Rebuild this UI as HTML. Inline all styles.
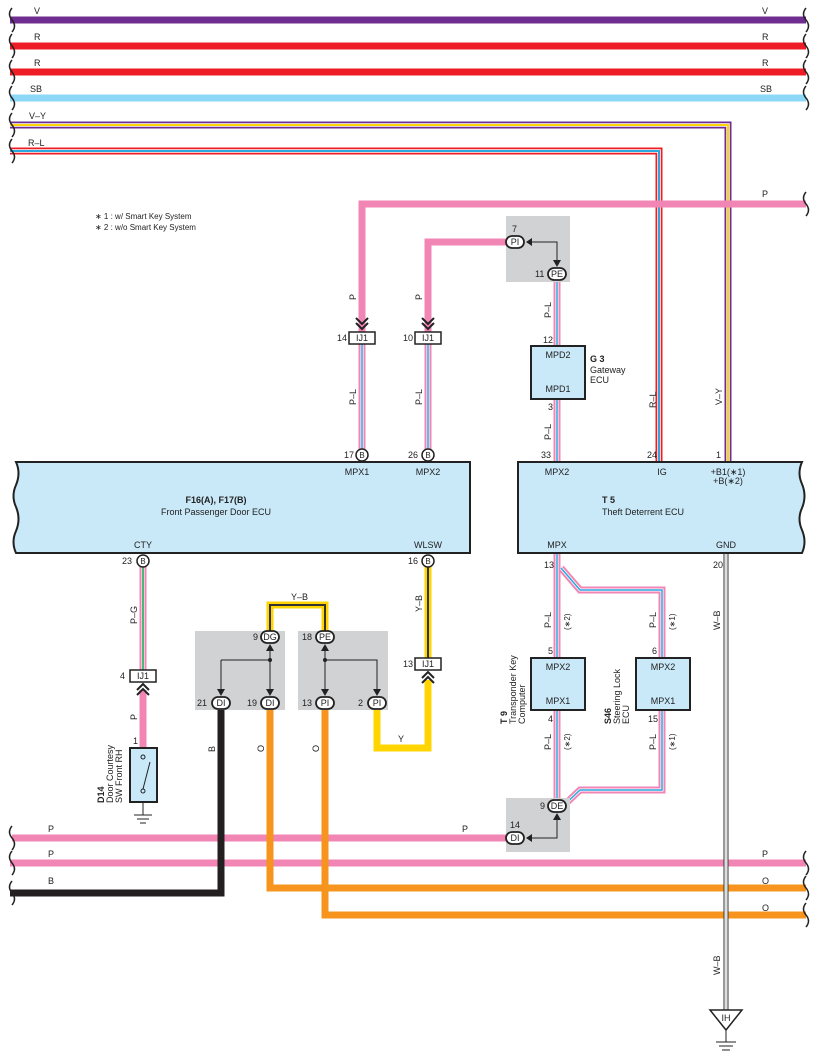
<!DOCTYPE html>
<html><head><meta charset="utf-8"><style>html,body{margin:0;padding:0;background:#fff}svg{display:block}text{font-family:"Liberation Sans",Arial,sans-serif;font-size:9px;fill:#222}</style></head>
<body>
<svg width="817" height="1061" viewBox="0 0 817 1061" xmlns="http://www.w3.org/2000/svg">
<g fill="none" stroke-linejoin="miter">
<line x1="10" y1="20" x2="806" y2="20" stroke="#6f2c91" stroke-width="7"/>
<line x1="10" y1="46" x2="806" y2="46" stroke="#ee1c25" stroke-width="7"/>
<line x1="10" y1="72" x2="806" y2="72" stroke="#ee1c25" stroke-width="7"/>
<line x1="10" y1="98" x2="806" y2="98" stroke="#8dd7f7" stroke-width="7"/>
<path d="M10 125 H728 V462" stroke="#6f2c91" stroke-width="7"/>
<path d="M10 125 H728 V462" stroke="#ffffff" stroke-width="3.5"/>
<path d="M10 125 H728 V462" stroke="#ffd400" stroke-width="2"/>
<path d="M10 151 H659 V462" stroke="#ee1c25" stroke-width="7"/>
<path d="M10 151 H659 V462" stroke="#ffffff" stroke-width="3.5"/>
<path d="M10 151 H659 V462" stroke="#29a8e0" stroke-width="2"/>
<path d="M806 204 H362 V332" stroke="#f185b4" stroke-width="7"/>
<path d="M512 242 H428 V332" stroke="#f185b4" stroke-width="7"/>
<g stroke="#f185b4" stroke-width="7">
<line x1="362" y1="344" x2="362" y2="450"/><line x1="428" y1="344" x2="428" y2="450"/>
<line x1="557" y1="280" x2="557" y2="462"/>
<path d="M557 553 V800"/>
<path d="M561 568 L580 590 H662 V790 H580 L561 808"/>
<line x1="143" y1="566" x2="143" y2="670"/>
<line x1="143" y1="690" x2="143" y2="748"/>
<line x1="12" y1="838" x2="510" y2="838"/>
<line x1="10" y1="863" x2="806" y2="863"/>
</g>
<g stroke="#fff" stroke-width="3">
<line x1="362" y1="344" x2="362" y2="450"/><line x1="428" y1="344" x2="428" y2="450"/>
<line x1="557" y1="280" x2="557" y2="462"/><path d="M557 553 V800"/>
<path d="M561 568 L580 590 H662 V790 H580 L561 808"/>
<line x1="143" y1="566" x2="143" y2="670"/>
</g>
<g stroke="#29a8e0" stroke-width="1.5">
<line x1="362" y1="344" x2="362" y2="450"/><line x1="428" y1="344" x2="428" y2="450"/>
<line x1="557" y1="280" x2="557" y2="462"/><path d="M557 553 V800"/>
<path d="M561 568 L580 590 H662 V790 H580 L561 808"/>
</g>
<line x1="143" y1="566" x2="143" y2="670" stroke="#00a651" stroke-width="1.5"/>
<path d="M270 631 V605 H325 V631" stroke="#ffd400" stroke-width="7"/>
<path d="M270 631 V605 H325 V631" stroke="#333" stroke-width="2"/>
<line x1="428" y1="566" x2="428" y2="658" stroke="#ffd400" stroke-width="7"/>
<line x1="428" y1="566" x2="428" y2="658" stroke="#333" stroke-width="2"/>
<path d="M377 709 V748 H428 V680" stroke="#ffd400" stroke-width="7"/>
<path d="M221 709 V893 H10" stroke="#231f20" stroke-width="7"/>
<path d="M270 709 V888 H806" stroke="#f7941d" stroke-width="7"/>
<path d="M325 709 V915 H806" stroke="#f7941d" stroke-width="7"/>
<line x1="726" y1="553" x2="726" y2="1010" stroke="#333" stroke-width="5"/>
<line x1="726" y1="553" x2="726" y2="1010" stroke="#fff" stroke-width="3"/>
<line x1="726" y1="553" x2="726" y2="1010" stroke="#aaa" stroke-width="0.8"/>
</g>
<g fill="none" stroke="#222" stroke-width="1.5">
<path d="M12 8 q-5 6 0 12 q5 6 0 12 M12 34 q-5 6 0 12 q5 6 0 12 M12 60 q-5 6 0 12 q5 6 0 12 M12 86 q-5 6 0 12 q5 6 0 12 M12 113 q-5 6 0 12 q5 6 0 12 M12 139 q-5 6 0 12 q5 6 0 12"/>
<path d="M806 8 q-5 6 0 12 q5 6 0 12 M806 34 q-5 6 0 12 q5 6 0 12 M806 60 q-5 6 0 12 q5 6 0 12 M806 86 q-5 6 0 12 q5 6 0 12 M806 192 q-5 6 0 12 q5 6 0 12"/>
<path d="M12 826 q-5 6 0 12 q5 6 0 12 M12 851 q-5 6 0 12 q5 6 0 12 M12 881 q-5 6 0 12 q5 6 0 12"/>
<path d="M806 851 q-5 6 0 12 q5 6 0 12 M806 876 q-5 6 0 12 q5 6 0 12 M806 903 q-5 6 0 12 q5 6 0 12"/>
</g>
<path d="M16 462 H470 V553 H16 q-5 -11 0 -22 q5 -12 0 -24 q-5 -11 0 -22 q5 -12 0 -23 Z" fill="#c9e8f8" stroke="#222" stroke-width="2"/>
<path d="M518 462 H802 q-5 11 0 22 q5 12 0 24 q-5 11 0 22 q5 12 0 23 H518 Z" fill="#c9e8f8" stroke="#222" stroke-width="2"/>
<rect x="506" y="216" width="64" height="66" fill="#d1d2d4"/>
<rect x="195" y="631" width="90" height="79" fill="#d1d2d4"/>
<rect x="298" y="631" width="90" height="79" fill="#d1d2d4"/>
<rect x="506" y="798" width="64" height="54" fill="#d1d2d4"/>
<rect x="531" y="346" width="54" height="53" fill="#c9e8f8" stroke="#222" stroke-width="2"/>
<rect x="531" y="658" width="54" height="52" fill="#c9e8f8" stroke="#222" stroke-width="2"/>
<rect x="636" y="658" width="54" height="52" fill="#c9e8f8" stroke="#222" stroke-width="2"/>
<rect x="130" y="748" width="27" height="54" fill="#c9e8f8" stroke="#222" stroke-width="2"/>
<g stroke="#222" fill="none" stroke-width="1"><circle cx="143" cy="757" r="2"/><circle cx="143" cy="791" r="2"/><line x1="143" y1="789" x2="150" y2="762"/><line x1="143" y1="802" x2="143" y2="815"/><line x1="134" y1="815" x2="152" y2="815"/><line x1="137" y1="819" x2="149" y2="819"/><line x1="140" y1="823" x2="146" y2="823"/></g>
<g fill="#fff" stroke="#222" stroke-width="1.5">
<rect x="349" y="332" width="26" height="12"/><rect x="415" y="332" width="26" height="12"/>
<rect x="130" y="670" width="26" height="12"/><rect x="415" y="658" width="26" height="12"/>
</g>
<g fill="none" stroke="#222" stroke-width="2">
<path d="M356 318 l6 6 l6 -6 M356 323 l6 6 l6 -6"/><path d="M422 318 l6 6 l6 -6 M422 323 l6 6 l6 -6"/>
<path d="M137 690 l6 -6 l6 6 M137 695 l6 -6 l6 6"/><path d="M422 678 l6 -6 l6 6 M422 683 l6 -6 l6 6"/>
</g>
<g text-anchor="middle"><text x="362" y="341">IJ1</text><text x="428" y="341">IJ1</text><text x="143" y="679">IJ1</text><text x="428" y="667">IJ1</text></g>
<g fill="#fff" stroke="#222" stroke-width="1.5"><circle cx="362" cy="455" r="6"/><circle cx="428" cy="455" r="6"/><circle cx="143" cy="561" r="6"/><circle cx="428" cy="561" r="6"/></g>
<g text-anchor="middle"><text x="362" y="458" style="font-size:8px">B</text><text x="428" y="458" style="font-size:8px">B</text><text x="143" y="564" style="font-size:8px">B</text><text x="428" y="564" style="font-size:8px">B</text></g>
<g fill="#fff" stroke="#222" stroke-width="1.8">
<rect x="506" y="236" width="18" height="12" rx="6"/><rect x="548" y="268" width="18" height="12" rx="6"/>
<rect x="261" y="631" width="18" height="12" rx="6"/><rect x="316" y="631" width="18" height="12" rx="6"/>
<rect x="212" y="697" width="18" height="12" rx="6"/><rect x="261" y="697" width="18" height="12" rx="6"/>
<rect x="316" y="697" width="18" height="12" rx="6"/><rect x="368" y="697" width="18" height="12" rx="6"/>
<rect x="548" y="800" width="18" height="12" rx="6"/><rect x="506" y="832" width="18" height="12" rx="6"/>
</g>
<g text-anchor="middle">
<text x="515" y="245">PI</text><text x="557" y="277">PE</text><text x="270" y="640">DG</text><text x="325" y="640">PE</text>
<text x="221" y="706">DI</text><text x="270" y="706">DI</text><text x="325" y="706">PI</text><text x="377" y="706">PI</text>
<text x="557" y="809">DE</text><text x="515" y="841">DI</text>
</g>
<g stroke="#222" fill="none" stroke-width="1"><path d="M528 242 H557 V262"/><path d="M270 648 V690 M221 660 H270 M221 660 V690 M325 648 V690 M325 660 H377 V690"/><path d="M557 817 V838 H528"/></g>
<g fill="#222"><circle cx="270" cy="660" r="2"/><circle cx="325" cy="660" r="2"/>
<path d="M526 242 l6 -4 v8 Z"/><path d="M557 267 l-4 -7 h8 Z"/><path d="M270 644 l-4 7 h8 Z"/><path d="M325 644 l-4 7 h8 Z"/>
<path d="M221 696 l-4 -7 h8 Z"/><path d="M270 696 l-4 -7 h8 Z"/><path d="M325 696 l-4 -7 h8 Z"/><path d="M377 696 l-4 -7 h8 Z"/>
<path d="M557 813 l-4 7 h8 Z"/><path d="M526 838 l6 -4 v8 Z"/></g>
<path d="M710 1010 H742 L726 1030 Z" fill="#fff" stroke="#222" stroke-width="1.5"/>
<text x="726" y="1021" text-anchor="middle">IH</text>
<g stroke="#222" stroke-width="1"><line x1="726" y1="1030" x2="726" y2="1042"/><line x1="716" y1="1042" x2="736" y2="1042"/><line x1="719" y1="1046" x2="733" y2="1046"/><line x1="722" y1="1050" x2="730" y2="1050"/></g>
<text x="34" y="14">V</text><text x="762" y="14">V</text>
<text x="34" y="40">R</text><text x="762" y="40">R</text>
<text x="34" y="66">R</text><text x="762" y="66">R</text>
<text x="30" y="92">SB</text><text x="760" y="92">SB</text>
<text x="29" y="119">V–Y</text><text x="28" y="146">R–L</text>
<text x="762" y="197">P</text>
<text x="95" y="219" style="font-size:8px">∗ 1 : w/ Smart Key System</text>
<text x="95" y="230" style="font-size:8px">∗ 2 : w/o Smart Key System</text>
<text x="512" y="232">7</text><text x="535" y="277">11</text>
<text x="543" y="343">12</text><text x="548" y="410">3</text><text x="541" y="458">33</text>
<text x="337" y="341">14</text><text x="403" y="341">10</text>
<text x="344" y="458">17</text><text x="408" y="458">26</text>
<text x="647" y="458">24</text><text x="716" y="458">1</text>
<text x="122" y="564">23</text><text x="408" y="564">16</text>
<text x="120" y="679">4</text><text x="403" y="667">13</text>
<text x="133" y="744">1</text>
<text x="253" y="640">9</text><text x="302" y="640">18</text>
<text x="197" y="706">21</text><text x="247" y="706">19</text><text x="302" y="706">13</text><text x="358" y="706">2</text>
<text x="544" y="568">13</text><text x="713" y="568">20</text>
<text x="548" y="654">5</text><text x="652" y="654">6</text>
<text x="548" y="722">4</text><text x="648" y="722">15</text>
<text x="540" y="809">9</text><text x="510" y="828">14</text>
<text x="462" y="832">P</text><text x="48" y="832">P</text><text x="48" y="857">P</text><text x="762" y="857">P</text>
<text x="48" y="884">B</text><text x="762" y="884">O</text><text x="762" y="911">O</text>
<text x="291" y="600">Y–B</text><text x="398" y="742">Y</text>
<g text-anchor="middle">
<text x="357" y="475">MPX1</text><text x="428" y="475">MPX2</text><text x="557" y="475">MPX2</text><text x="662" y="475">IG</text>
<text x="728" y="475">+B1(∗1)</text><text x="728" y="484">+B(∗2)</text>
<text x="143" y="548">CTY</text><text x="428" y="548">WLSW</text><text x="557" y="548">MPX</text><text x="726" y="548">GND</text>
<text x="558" y="358">MPD2</text><text x="558" y="392">MPD1</text>
<text x="558" y="670">MPX2</text><text x="558" y="704">MPX1</text>
<text x="663" y="670">MPX2</text><text x="663" y="704">MPX1</text>
<text x="216" y="503" style="font-weight:bold">F16(A), F17(B)</text>
<text x="216" y="515">Front Passenger Door ECU</text>
</g>
<text x="602" y="503" style="font-weight:bold">T 5</text><text x="602" y="515">Theft Deterrent ECU</text>
<text x="590" y="362" style="font-weight:bold">G 3</text><text x="590" y="373">Gateway</text><text x="590" y="383">ECU</text>
<g>
<text transform="translate(356,300) rotate(-90)">P</text><text transform="translate(422,300) rotate(-90)">P</text>
<text transform="translate(551,318) rotate(-90)">P–L</text><text transform="translate(551,440) rotate(-90)">P–L</text>
<text transform="translate(356,405) rotate(-90)">P–L</text><text transform="translate(422,405) rotate(-90)">P–L</text>
<text transform="translate(656,408) rotate(-90)">R–L</text><text transform="translate(722,405) rotate(-90)">V–Y</text>
<text transform="translate(137,624) rotate(-90)">P–G</text><text transform="translate(137,720) rotate(-90)">P</text>
<text transform="translate(422,612) rotate(-90)">Y–B</text>
<text transform="translate(215,752) rotate(-90)">B</text><text transform="translate(264,752) rotate(-90)">O</text><text transform="translate(319,752) rotate(-90)">O</text>
<text transform="translate(551,628) rotate(-90)">P–L</text><text transform="translate(570,630) rotate(-90)" style="font-size:8px">(∗2)</text>
<text transform="translate(656,628) rotate(-90)">P–L</text><text transform="translate(675,630) rotate(-90)" style="font-size:8px">(∗1)</text>
<text transform="translate(551,750) rotate(-90)">P–L</text><text transform="translate(570,750) rotate(-90)" style="font-size:8px">(∗2)</text>
<text transform="translate(656,750) rotate(-90)">P–L</text><text transform="translate(675,750) rotate(-90)" style="font-size:8px">(∗1)</text>
<text transform="translate(720,630) rotate(-90)">W–B</text><text transform="translate(720,975) rotate(-90)">W–B</text>
<text transform="translate(507,724) rotate(-90)" style="font-weight:bold">T 9</text>
<text transform="translate(516,724) rotate(-90)">Transponder Key</text>
<text transform="translate(525,724) rotate(-90)">Computer</text>
<text transform="translate(611,724) rotate(-90)" style="font-weight:bold">S46</text>
<text transform="translate(620,724) rotate(-90)">Steering Lock</text>
<text transform="translate(629,724) rotate(-90)">ECU</text>
<text transform="translate(104,803) rotate(-90)" style="font-weight:bold">D14</text>
<text transform="translate(113,803) rotate(-90)">Door Courtesy</text>
<text transform="translate(122,803) rotate(-90)">SW Front RH</text>
</g>
</svg>
</body></html>
